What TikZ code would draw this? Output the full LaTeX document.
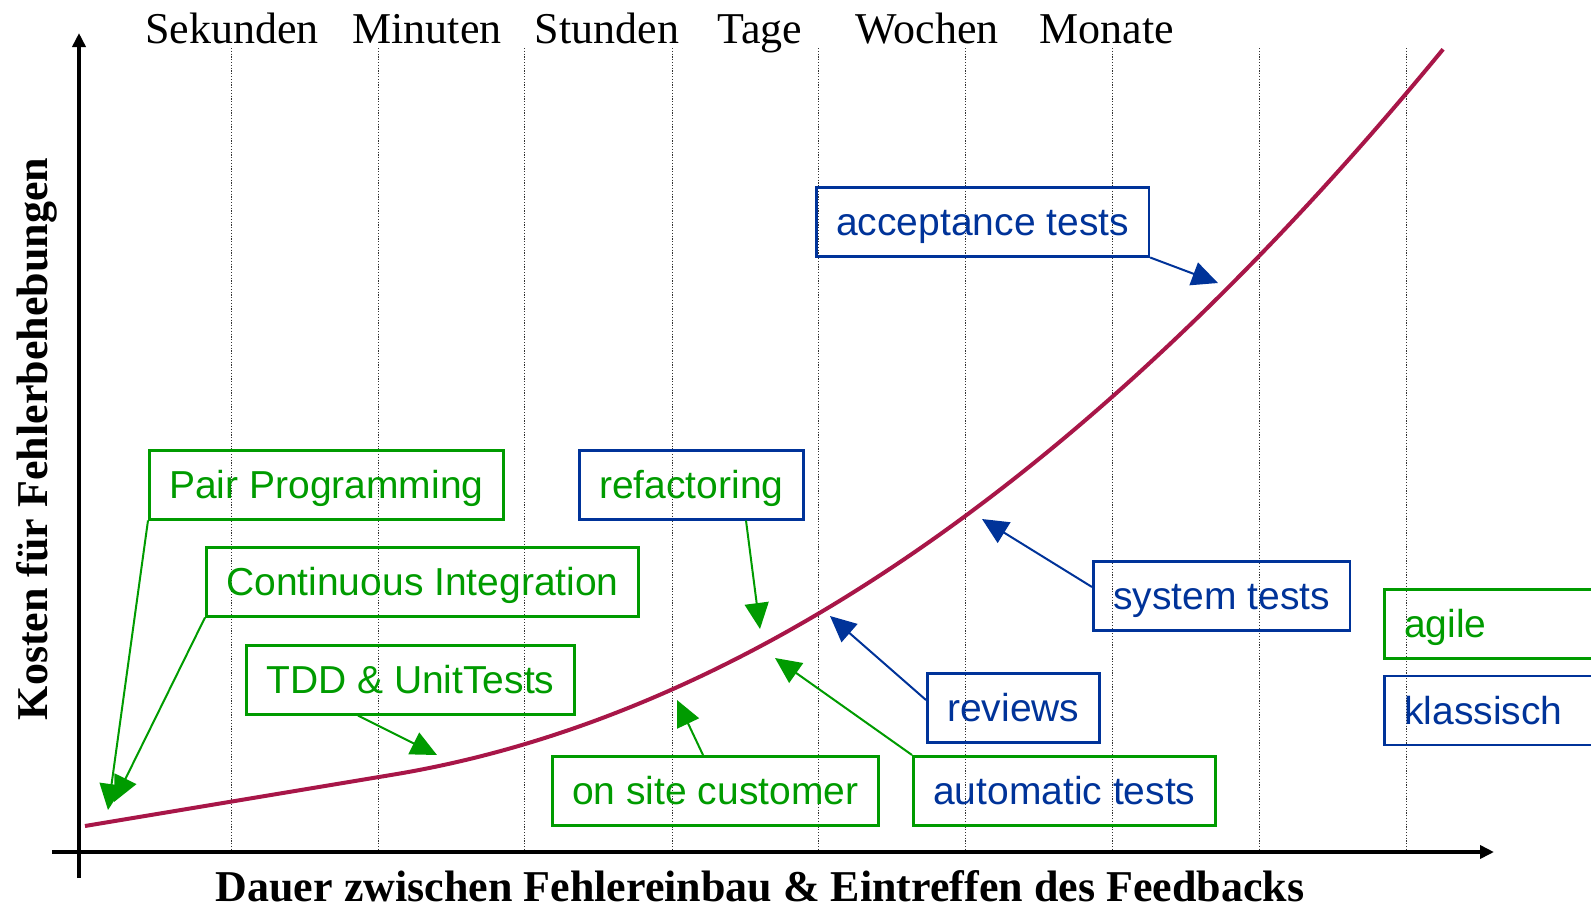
\documentclass[tikz,border=0pt]{standalone}
\usepackage{fontspec}
\setmainfont{Liberation Serif}
\setsansfont{Liberation Sans}
\usetikzlibrary{arrows.meta,positioning}

\definecolor{agilegreen}{RGB}{0,155,0}
\definecolor{classicblue}{RGB}{0,51,153}
\definecolor{curvered}{RGB}{168,22,72}

\begin{document}
\begin{tikzpicture}[x=1pt,y=-1pt]

  \tikzset{main node/.style={rectangle, draw, line width=2.5pt, anchor=north west,
  		inner xsep=20pt, inner ysep=0pt, minimum height=69pt,
  		text height=28pt, text depth=0pt, font=\sffamily\fontsize{39}{44}\selectfont}, }
  \tikzset{agile node/.style={main node, draw=agilegreen, text=agilegreen}, }
  \tikzset{classic node/.style={main node, draw=classicblue, text=classicblue}, }
  \tikzset{time label/.style={anchor=base, font=\fontsize{44}{50}\selectfont}, }
  \tikzset{axis label/.style={anchor=base, font=\bfseries\fontsize{44}{50}\selectfont}, }
  \tikzset{linea/.style={-{Triangle[length=26pt,width=24pt]}, line width=2pt}, }
  \tikzset{axis/.style={-{Triangle[length=14pt,width=13pt]}, line width=4pt}, }
  \tikzset{grid line/.style={line width=0.9pt, dash pattern=on 1.2pt off 1.6pt, black!80}, }
  \tikzset{cost curve/.style={line width=4pt, curvered}, }

\useasboundingbox (0,0) rectangle (1591,908);

% time scale
\foreach \x in {231,378,524,672,818,965,1112,1259,1406}
  \draw[grid line] (\x,48) -- (\x,852);
\foreach \x/\t in {232/Sekunden,427/Minuten,607/Stunden,760/Tage,927/Wochen,1107/Monate}
  \node[time label] (t-\t) at (\x,43) {\t};

% axes
\coordinate (xs) at (52,852);
\coordinate (xe) at (1494,852);
\coordinate (ys) at (79,878);
\coordinate (ye) at (79,33);
\draw[axis] (xs) -- (xe);
\draw[axis] (ys) -- (ye);
\node[axis label] (xlab) at (760,901) {Dauer zwischen Fehlereinbau \& Eintreffen des Feedbacks};
\node[axis label, rotate=90] (ylab) at (47,439) {Kosten für Fehlerbehebungen};

% cost curve
\draw[cost curve] plot[domain=0:9.24, samples=90, smooth]
  ({85+147*\x}, {826-24.5*\x-10.8*(max(0,\x-2.1))^2});

% practices
\node[agile node] (pp) at (148,449) {Pair Programming};
\node[agile node] (ci) at (205,546) {Continuous Integration};
\node[agile node] (tdd) at (245,644) {TDD \& UnitTests};
\node[main node, draw=classicblue, text=agilegreen] (ref) at (578,449) {refactoring};
\node[classic node] (acc) at (815,186) {acceptance tests};
\node[classic node] (sys) at (1092,560) {system tests};
\node[classic node] (rev) at (926,672) {reviews};
\node[agile node] (osc) at (551,755) {on site customer};
\node[main node, draw=agilegreen, text=classicblue] (aut) at (912,755) {automatic tests};

% legend
\node[agile node, text width=220pt] (agile) at (1383,588) {agile};
\node[classic node, text width=220pt] (klass) [below=15pt of agile.south west, anchor=north west] {klassisch};

% arrow tips on the curve
\coordinate (pp-t) at (108,810);
\coordinate (ci-t) at (114,802);
\coordinate (tdd-t) at (437,755);
\coordinate (ref-t) at (760,629);
\coordinate (osc-t) at (677,700);
\coordinate (aut-t) at (775,658);
\coordinate (rev-t) at (830,616);
\coordinate (sys-t) at (982,519);
\coordinate (acc-t) at (1218,283);

\coordinate (pp-s) at (pp.south west);
\coordinate (ci-s) at (ci.south west);
\coordinate (tdd-s) at ([xshift=113pt]tdd.south west);
\coordinate (ref-s) at ([xshift=168pt]ref.south west);
\coordinate (osc-s) at ([xshift=152pt]osc.north west);
\coordinate (aut-s) at (aut.north west);
\coordinate (rev-s) at ([yshift=-28pt]rev.north west);
\coordinate (sys-s) at ([yshift=-27pt]sys.north west);
\coordinate (acc-s) at (acc.south east);

\foreach \x/\c in {pp/agilegreen,ci/agilegreen,tdd/agilegreen,ref/agilegreen,osc/agilegreen,aut/agilegreen,rev/classicblue,sys/classicblue,acc/classicblue}
  \draw[linea, \c] (\x-s) -- (\x-t);
%%
\end{tikzpicture}
\end{document}
